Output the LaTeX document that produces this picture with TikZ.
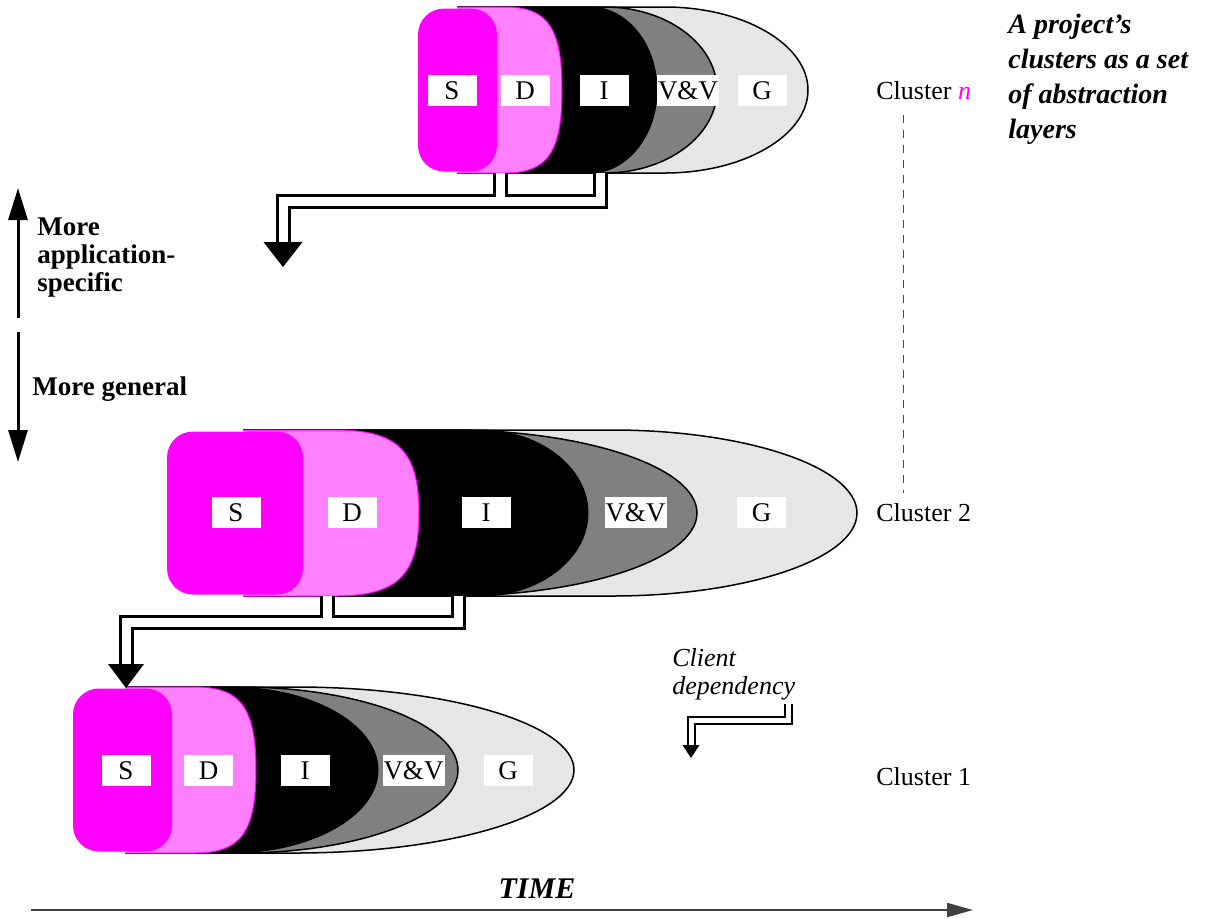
\documentclass[tikz,border=0pt]{standalone}
\usepackage{fontspec}
\setmainfont{Liberation Serif}
\usetikzlibrary{arrows.meta}
\definecolor{smag}{RGB}{255,0,255}
\definecolor{dmag}{RGB}{255,128,255}
\definecolor{vvgray}{RGB}{128,128,128}
\definecolor{ggray}{RGB}{230,230,230}

% one layer of a cluster: style, left x, start of the bulge, tip x, roundness
\newcommand{\layer}[5]{\filldraw[#1] (#2,0) -- (#3,0) .. controls ({#3+#5*(#4-#3)},0) and (#4,{83-#5*83}) .. (#4,83)
  .. controls (#4,{83+#5*83}) and ({#3+#5*(#4-#3)},166) .. (#3,166) -- (#2,166);}

\tikzset{
  glay/.style={fill=ggray,draw=black,line width=0.75pt},
  vlay/.style={fill=vvgray,draw=black,line width=0.75pt},
  ilay/.style={fill=black,draw=black,line width=0.5pt},
  dlay/.style={fill=dmag,draw=smag,line width=0.5pt},
  slay/.style={fill=smag,rounded corners=13pt},
  lab/.style={fill=white,minimum width=24.5pt,minimum height=15.5pt,inner sep=0.5pt,font=\fontsize{13.5}{14}\selectfont},
  clab/.style={anchor=base west,inner sep=0pt,font=\fontsize{13}{14}\selectfont},
  pipe/.style={line width=7.5pt,black},
  pipein/.style={line width=4.5pt,white},
  thinpipe/.style={line width=4.5pt,black},
  thinpipein/.style={line width=2.5pt,white},
  updown/.style={line width=1.5pt,-{Triangle[length=16pt,width=9.5pt]}},
  bside/.style={anchor=north west,align=left,inner sep=0pt,font=\fontsize{13.5}{14}\selectfont\bfseries}
}

\begin{document}
\begin{tikzpicture}[x=0.5pt,y=-0.5pt]
  \useasboundingbox (0,0) rectangle (1207,918);

  % cluster n
  \begin{scope}[shift={(0,7)}]
    \layer{glay}{457}{665}{808}{0.55} \layer{vlay}{457}{605}{717}{0.55} \layer{ilay}{457}{590}{657}{0.55} \layer{dlay}{457}{505}{562}{0.75}
    \fill[slay] (418,1.5) rectangle (497,164.5);
    \foreach \t/\k/\x in {S/s/452,D/d/525,I/i/604,V\&V/v/688,G/g/762} \node[lab] (n\k) at (\x,83.5) {\t};
  \end{scope}

  % cluster 2
  \begin{scope}[shift={(0,430)}]
    \layer{glay}{243}{612}{857}{0.55} \layer{vlay}{243}{450}{697}{0.55} \layer{ilay}{243}{480}{588}{0.55} \layer{dlay}{243}{335}{419}{0.75}
    \fill[slay] (167,1.5) rectangle (303,164.5);
    \foreach \t/\k/\x in {S/s/236,D/d/352,I/i/486,V\&V/v/635.5,G/g/761.5} \node[lab] (c\k) at (\x,82.5) {\t};
  \end{scope}

  % cluster 1
  \begin{scope}[shift={(0,687)}]
    \layer{glay}{125}{296}{574}{0.55} \layer{vlay}{125}{240}{458}{0.55} \layer{ilay}{125}{230}{378}{0.55} \layer{dlay}{125}{195}{256}{0.75}
    \fill[slay] (73,1.5) rectangle (172,164.5);
    \foreach \t/\k/\x in {S/s/126,D/d/208.5,I/i/305,V\&V/v/413.5,G/g/508} \node[lab] (b\k) at (\x,83.5) {\t};
  \end{scope}

  % client dependencies
  \coordinate (nd) at (500,173); \coordinate (ni) at (600,173);
  \coordinate (nbend) at (283,201); \coordinate (nbase) at (283,242); \coordinate (ntip) at (283,267);
  \draw[pipe] (nd) -- (nd |- nbend); \draw[pipe] (ni) |- (nbend) -- (nbase);
  \draw[pipein] (nd) -- (nd |- nbend); \draw[pipein] (ni) |- (nbend) -- (nbase);
  \fill (nbase) ++(-19.5,0) -- ++(39,0) -- (ntip) -- cycle;

  \coordinate (cd) at (327.5,596); \coordinate (ci) at (458.5,596);
  \coordinate (cbend) at (126,622.5); \coordinate (cbase) at (126,664); \coordinate (ctip) at (126,688);
  \draw[pipe] (cd) -- (cd |- cbend); \draw[pipe] (ci) |- (cbend) -- (cbase);
  \draw[pipein] (cd) -- (cd |- cbend); \draw[pipein] (ci) |- (cbend) -- (cbase);
  \fill (cbase) ++(-18,0) -- ++(36,0) -- (ctip) -- cycle;

  % legend
  \node[anchor=north west,align=left,inner sep=0pt,font=\fontsize{13}{14}\selectfont\itshape] (client) at (672,648) {Client\\dependency};
  \coordinate (lstart) at (788.5,704); \coordinate (lbend) at (691,720.5);
  \coordinate (lbase) at (691,745); \coordinate (ltip) at (691,758);
  \draw[thinpipe] (lstart) |- (lbend) -- (lbase);
  \draw[thinpipein] (lstart) |- (lbend) -- (lbase);
  \fill (lbase) ++(-8.5,0) -- ++(17,0) -- (ltip) -- cycle;

  % labels on the right
  \node[clab] (cln) at (876,99) {Cluster {\color{smag}\itshape n}};
  \node[clab] (cl2) at (876,521) {Cluster 2};
  \node[clab] (cl1) at (876,785) {Cluster 1};
  \coordinate (dtop) at (903,115); \coordinate (dbot) at (903,493);
  \draw[dashed,dash pattern=on 4pt off 3.5pt,line width=0.5pt,black!70] (dtop) -- (dbot);
  \node[anchor=north west,align=left,inner sep=0pt,font=\fontsize{14}{17.5}\selectfont\bfseries\itshape] (ttl) at (1008,14)
    {A project's\\clusters as a set\\of abstraction\\layers};

  % abstraction axis
  \coordinate (ua) at (18,318); \coordinate (ub) at (18,188);
  \coordinate (da) at (18,332); \coordinate (db) at (18,462);
  \draw[updown] (ua) -- (ub); \draw[updown] (da) -- (db);
  \node[bside] (appl) at (37,217) {More\\application-\\specific};
  \node[bside,anchor=west] (gen) at (32,389) {More general};

  % time axis
  \coordinate (t0) at (31,910); \coordinate (t1) at (973,910);
  \draw[line width=1pt,black!75,-{Triangle[length=13pt,width=7pt]}] (t0) -- (t1);
  \node[anchor=base,inner sep=0pt,font=\fontsize{15}{15}\selectfont\bfseries\itshape] (time) at (537,898) {TIME};
\end{tikzpicture}
\end{document}
